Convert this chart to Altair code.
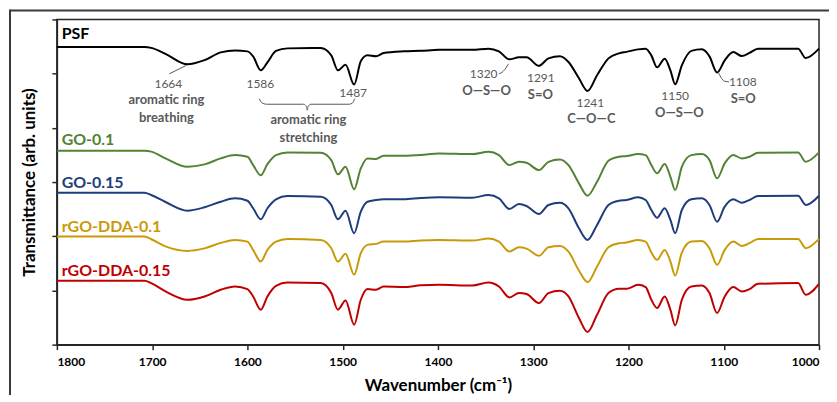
import altair as alt
import pandas as pd

# ---------------- data ----------------
wavenumber = [1800, 1708, 1701, 1686, 1663, 1645, 1628, 1613, 1600, 1594, 1586, 1579, 1570, 1558,
              1523, 1512, 1505, 1497, 1488, 1481, 1474, 1465, 1457, 1436, 1418,
              1399, 1364, 1347, 1336, 1325, 1315, 1307, 1294, 1284, 1272, 1263, 1252, 1243, 1233,
              1221, 1210, 1202, 1190, 1182, 1176, 1170, 1162, 1156, 1151, 1144, 1134, 1123, 1115,
              1107, 1099, 1090, 1081, 1073, 1064, 1022, 1014, 1000]

psf = [298.3, 298.3, 297.5, 291.5, 281, 285.2, 293, 294.8, 294, 289, 275, 283, 294.5, 297,
       297.3, 290, 275, 280.5, 260.7, 284, 290, 289, 292.3, 294, 294.5,
       295.5, 295.5, 296.7, 294, 286, 288, 288, 279.5, 287, 289, 283.3, 267, 254.3, 270,
       287, 292, 293.5, 296, 296.7, 290, 278, 286.7, 275, 261, 280, 294.5, 296, 289,
       272.7, 285, 293.3, 289.3, 292.5, 296.7, 296.7, 287.3, 296.7]

go_01 = [194.3, 194.3, 193.5, 186.7, 178.3, 180.7, 186.7, 190, 188.3, 180, 169.7, 181, 190, 192.7,
         192.3, 185, 170.7, 178.3, 155.7, 176.7, 186.7, 186, 189.3, 189.3, 190,
         191.7, 191, 193.3, 190, 180, 183.3, 182.3, 175, 183.3, 185.7, 180, 161.7, 149.3, 163.3,
         184.3, 188.3, 189, 191, 190, 180, 171.7, 181, 168.3, 155, 178.3, 190, 191, 185,
         166.7, 181.7, 190, 186.7, 188.3, 192.3, 192.7, 183.3, 192.7]

go_015 = [152.3, 152.3, 150, 143, 134.3, 137.7, 143.3, 146.7, 144.3, 136.7, 125.7, 136.7, 145.7, 149,
          148.3, 140, 125.7, 134.3, 111.7, 133.3, 143.3, 145, 145.7, 145.7, 147,
          147.7, 147.3, 150, 146.7, 136, 141, 139, 131, 140, 142.3, 136.7, 116.7, 105, 120,
          140, 144.3, 145, 147.7, 145, 135, 127.3, 136.7, 125, 111.7, 135, 145.7, 146.7, 140,
          123.3, 138.3, 145.7, 142.3, 145, 149, 149.3, 140, 149.3]

rgo_dda_01 = [108.3, 108.3, 105.7, 98.5, 94, 96.5, 102, 105, 103.3, 95, 83.3, 95, 103.3, 106,
              105, 96.7, 83.3, 91, 70, 91.7, 100, 101, 103.3, 103.3, 104.5,
              105, 104.3, 106.3, 103.3, 93.3, 97.7, 96.3, 89, 97.7, 99, 93.3, 74.3, 62.7, 78.3,
              97.7, 101.7, 102.3, 105, 103.3, 92.3, 85, 95, 83.3, 69.3, 92.3, 103.3, 104, 96.7,
              80, 95, 103.3, 99, 101.7, 106, 106, 96.7, 106]

rgo_dda_015 = [64, 64, 61.7, 53.5, 45, 48.3, 55, 58.3, 55.7, 48.3, 35, 48.3, 59, 62.3,
               61.7, 51.7, 35, 44.3, 20, 45, 55.7, 55, 58.3, 57.7, 59.5,
               60, 59.3, 62.3, 58.3, 47.3, 51.7, 50.7, 41.7, 51.7, 54, 48.3, 26.7, 12.7, 30,
               51.7, 56, 56, 60, 57.7, 45, 36.7, 48.3, 35, 19.3, 45, 58.3, 59.3, 51.7,
               31.7, 48.3, 57.7, 53.3, 55.7, 61, 61.7, 50, 61]

series_names = ["PSF", "GO-0.1", "GO-0.15", "rGO-DDA-0.1", "rGO-DDA-0.15"]
series_colors = ["#000000", "#548235", "#1F3D7C", "#C99A06", "#C00000"]
label_wn = [1795, 1795, 1795, 1795, 1795]
label_T = [311, 205, 162.3, 118.3, 74.3]

x_ticks = [1800, 1700, 1600, 1500, 1400, 1300, 1200, 1100, 1000]
y_ticks = [0, 54.33, 108.67, 163, 217.33, 271.67, 326]

# peak annotations (numbers)
num_text = ["1664", "1586", "1487", "1320", "1291", "1241", "1150", "1108"]
num_wn = [1683, 1586.4, 1489, 1352, 1292, 1240, 1151, 1080]
num_T = [261.5, 261.7, 252.3, 271.5, 267.2, 242.5, 249, 262.8]

# band assignments
desc_text = ["aromatic ring", "breathing", "aromatic ring", "stretching", "O—S—O", "S=O",
             "C—O—C", "O—S—O", "S=O"]
desc_wn = [1685, 1685, 1536, 1536, 1349, 1292.5, 1239, 1146.6, 1079.6]
desc_T = [245.2, 227.5, 225, 207.3, 254.5, 250.2, 226, 232.5, 246.5]

# leader lines and brace
lead_group = ["a", "a", "b", "b", "b", "c", "c", "c", "c",
              "d", "d", "d", "d", "d", "d", "d", "d", "d", "d", "d"]
lead_wn = [1682, 1664, 1336, 1331.5, 1326, 1106, 1103, 1099, 1094.5,
           1587.5, 1585, 1580, 1541, 1538, 1537.2, 1536.4, 1533.5, 1493, 1489.5, 1487.5]
lead_T = [271.5, 280, 271.5, 274, 281.5, 273.5, 268, 264, 263.5,
          246.5, 242.5, 241, 241, 238.5, 235, 238.5, 241, 241, 242.5, 246.5]

# ---------------- build ----------------
rows = []
for name, vals in zip(series_names, [psf, go_01, go_015, rgo_dda_01, rgo_dda_015]):
    for w, v in zip(wavenumber, vals):
        rows.append({"series": name, "wn": w, "T": v})
df = pd.DataFrame(rows)

FONT = "Lato"
GREY = "#595959"
x_scale = alt.Scale(domain=[1000, 1800], reverse=True, nice=False, zero=False)
y_scale = alt.Scale(domain=[0, 326], nice=False, zero=False)
col_scale = alt.Scale(domain=series_names, range=series_colors)

lines = alt.Chart(df).mark_line(interpolate="monotone", strokeWidth=2).encode(
    x=alt.X("wn:Q", scale=x_scale,
            axis=alt.Axis(values=x_ticks, format="d", title="Wavenumber (cm⁻¹)",
                          labelFontSize=12, labelFontWeight="bold", labelPadding=7,
                          titleFontSize=17, titleFontWeight="bold", titlePadding=10)),
    y=alt.Y("T:Q", scale=y_scale,
            axis=alt.Axis(values=y_ticks, labels=False, title="Transmittance (arb. units)",
                          titleFontSize=17, titleFontWeight="bold", titlePadding=13)),
    color=alt.Color("series:N", scale=col_scale, legend=None),
)

lab_df = pd.DataFrame({"series": series_names, "wn": label_wn, "T": label_T})
labels = alt.Chart(lab_df).mark_text(align="left", baseline="middle", font=FONT,
                                     fontSize=16, fontWeight="bold").encode(
    x=alt.X("wn:Q", scale=x_scale), y=alt.Y("T:Q", scale=y_scale),
    text="series:N",
    color=alt.Color("series:N", scale=col_scale, legend=None),
)

num_df = pd.DataFrame({"t": num_text, "wn": num_wn, "T": num_T})
nums = alt.Chart(num_df).mark_text(align="center", baseline="middle", font=FONT,
                                   fontSize=12, color=GREY).encode(
    x=alt.X("wn:Q", scale=x_scale), y=alt.Y("T:Q", scale=y_scale), text="t:N")

desc_df = pd.DataFrame({"t": desc_text, "wn": desc_wn, "T": desc_T})
descs = alt.Chart(desc_df).mark_text(align="center", baseline="middle", font=FONT,
                                     fontSize=13, fontWeight="bold", color=GREY).encode(
    x=alt.X("wn:Q", scale=x_scale), y=alt.Y("T:Q", scale=y_scale), text="t:N")

lead_df = pd.DataFrame({"g": lead_group, "wn": lead_wn, "T": lead_T,
                        "i": list(range(len(lead_wn)))})
leads = alt.Chart(lead_df).mark_line(color=GREY, strokeWidth=1, interpolate="monotone").encode(
    x=alt.X("wn:Q", scale=x_scale), y=alt.Y("T:Q", scale=y_scale),
    detail="g:N", order="i:Q")

one = pd.DataFrame({"a": [0]})
frame_top = alt.Chart(one).mark_rule(color="#3a3a3a", strokeWidth=2).encode(
    x=alt.value(-47), x2=alt.value(900), y=alt.value(-9))
frame_left = alt.Chart(one).mark_rule(color="#3a3a3a", strokeWidth=2).encode(
    x=alt.value(-47), y=alt.value(-10), y2=alt.value(500))

chart = alt.layer(lines, leads, labels, nums, descs, frame_top, frame_left).properties(
    width=764, height=326,
    autosize=alt.AutoSizeParams(type="none"),
    padding={"left": 49, "top": 11, "right": 10, "bottom": 50},
    background="white",
).configure_view(
    stroke="#262626", strokeWidth=1.5
).configure_axis(
    grid=False, domainColor="#262626", domainWidth=1.5, tickColor="#262626",
    tickWidth=1.5, tickSize=5, labelFont=FONT, titleFont=FONT,
    labelColor="#000000", titleColor="#000000",
)

chart.save("out.html", embed_options={"renderer": "svg", "actions": False})
